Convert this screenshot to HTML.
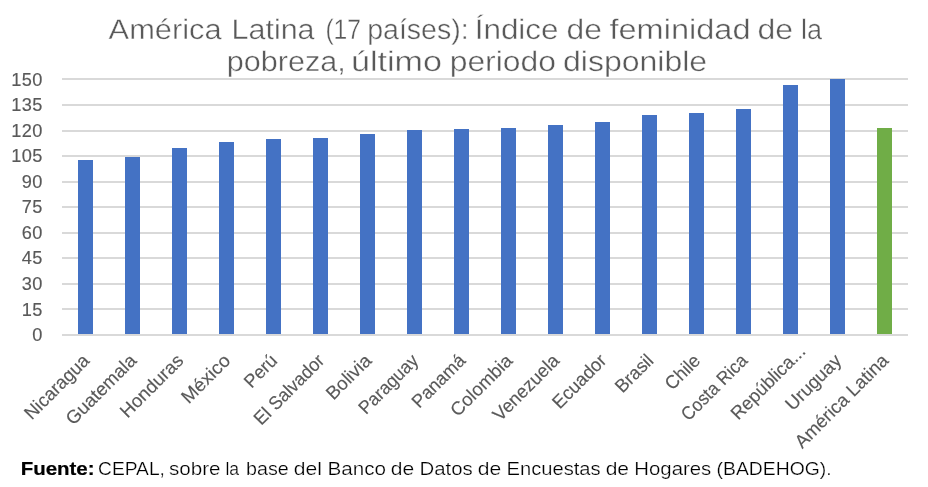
<!DOCTYPE html>
<html lang="es">
<head>
<meta charset="utf-8">
<title>América Latina (17 países): Índice de feminidad de la pobreza</title>
<style>
html,body{margin:0;padding:0;background:#fff;}
body{width:928px;height:487px;overflow:hidden;}
svg{display:block;}
.t{font-family:"Liberation Sans", sans-serif;font-size:28.3px;fill:#595959;text-rendering:geometricPrecision;stroke:#fff;stroke-width:0.39px;}
.a{font-family:"Liberation Sans", sans-serif;font-size:18.2px;fill:#595959;stroke:#595959;stroke-width:0.15px;}
.f{font-family:"Liberation Sans", sans-serif;font-size:17.7px;fill:#000;stroke:#fff;stroke-width:0.24px;}
.fb{font-weight:bold;stroke:#000;stroke-width:0.2px;}
</style>
</head>
<body>
<svg width="928" height="487" viewBox="0 0 928 487">
<rect x="0" y="0" width="928" height="487" fill="#ffffff"/>
<g fill="#d9d9d9" shape-rendering="crispEdges">
<rect x="62" y="78" width="846" height="2"/>
<rect x="62" y="104" width="846" height="2"/>
<rect x="62" y="130" width="846" height="2"/>
<rect x="62" y="155" width="846" height="2"/>
<rect x="62" y="181" width="846" height="2"/>
<rect x="62" y="206" width="846" height="2"/>
<rect x="62" y="232" width="846" height="2"/>
<rect x="62" y="257" width="846" height="2"/>
<rect x="62" y="283" width="846" height="2"/>
<rect x="62" y="308" width="846" height="2"/>
</g>
<g shape-rendering="crispEdges">
<rect x="78" y="160" width="15" height="175" fill="#4472c4"/>
<rect x="125" y="157" width="15" height="178" fill="#4472c4"/>
<rect x="172" y="148" width="15" height="187" fill="#4472c4"/>
<rect x="219" y="142" width="15" height="193" fill="#4472c4"/>
<rect x="266" y="139" width="15" height="196" fill="#4472c4"/>
<rect x="313" y="138" width="15" height="197" fill="#4472c4"/>
<rect x="360" y="134" width="15" height="201" fill="#4472c4"/>
<rect x="407" y="130" width="15" height="205" fill="#4472c4"/>
<rect x="454" y="129" width="15" height="206" fill="#4472c4"/>
<rect x="501" y="128" width="15" height="207" fill="#4472c4"/>
<rect x="548" y="125" width="15" height="210" fill="#4472c4"/>
<rect x="595" y="122" width="15" height="213" fill="#4472c4"/>
<rect x="642" y="115" width="15" height="220" fill="#4472c4"/>
<rect x="689" y="113" width="15" height="222" fill="#4472c4"/>
<rect x="736" y="109" width="15" height="226" fill="#4472c4"/>
<rect x="783" y="85" width="15" height="250" fill="#4472c4"/>
<rect x="830" y="79" width="15" height="256" fill="#4472c4"/>
<rect x="877" y="128" width="15" height="207" fill="#70ad47"/>
</g>
<rect x="62" y="334" width="846" height="2" fill="#d9d9d9" shape-rendering="crispEdges"/>
<g class="a" text-anchor="end" letter-spacing="0.4">
<text x="42.7" y="86.0">150</text>
<text x="42.7" y="111.0">135</text>
<text x="42.7" y="137.0">120</text>
<text x="42.7" y="162.0">105</text>
<text x="42.7" y="188.0">90</text>
<text x="42.7" y="213.0">75</text>
<text x="42.7" y="239.0">60</text>
<text x="42.7" y="264.0">45</text>
<text x="42.7" y="290.0">30</text>
<text x="42.7" y="315.6">15</text>
<text x="42.7" y="341.0">0</text>
</g>
<g class="a" text-anchor="end">
<text transform="translate(90.5 361.8) rotate(-45)" font-size="18.6" textLength="83.0" lengthAdjust="spacingAndGlyphs">Nicaragua</text>
<text transform="translate(137.5 361.8) rotate(-45)" font-size="18.6" textLength="90.9" lengthAdjust="spacingAndGlyphs">Guatemala</text>
<text transform="translate(184.5 361.8) rotate(-45)" font-size="18.6" textLength="80.5" lengthAdjust="spacingAndGlyphs">Honduras</text>
<text transform="translate(231.5 361.8) rotate(-45)" font-size="18.6" textLength="60.3" lengthAdjust="spacingAndGlyphs">México</text>
<text transform="translate(278.5 361.8) rotate(-45)" font-size="18.6" textLength="38.3" lengthAdjust="spacingAndGlyphs">Perú</text>
<text transform="translate(325.5 361.8) rotate(-45)" font-size="18.6" textLength="90.8" lengthAdjust="spacingAndGlyphs">El Salvador</text>
<text transform="translate(372.5 361.8) rotate(-45)" font-size="18.6" textLength="55.2" lengthAdjust="spacingAndGlyphs">Bolivia</text>
<text transform="translate(419.5 361.8) rotate(-45)" font-size="18.6" textLength="75.7" lengthAdjust="spacingAndGlyphs">Paraguay</text>
<text transform="translate(466.5 361.8) rotate(-45)" font-size="18.6" textLength="66.8" lengthAdjust="spacingAndGlyphs">Panamá</text>
<text transform="translate(513.5 361.8) rotate(-45)" font-size="18.6" textLength="78.9" lengthAdjust="spacingAndGlyphs">Colombia</text>
<text transform="translate(560.5 361.8) rotate(-45)" font-size="18.6" textLength="85.1" lengthAdjust="spacingAndGlyphs">Venezuela</text>
<text transform="translate(607.5 361.8) rotate(-45)" font-size="18.6" textLength="67.7" lengthAdjust="spacingAndGlyphs">Ecuador</text>
<text transform="translate(654.5 361.8) rotate(-45)" font-size="18.6" textLength="45.1" lengthAdjust="spacingAndGlyphs">Brasil</text>
<text transform="translate(701.5 361.8) rotate(-45)" font-size="18.6" textLength="41.3" lengthAdjust="spacingAndGlyphs">Chile</text>
<text transform="translate(748.5 361.8) rotate(-45)" font-size="18.6" textLength="84.8" lengthAdjust="spacingAndGlyphs">Costa Rica</text>
<text transform="translate(806.5 352.5) rotate(-45)" font-size="18.6" textLength="96.5" lengthAdjust="spacingAndGlyphs">República...</text>
<text transform="translate(842.5 361.8) rotate(-45)" font-size="18.6" textLength="70.2" lengthAdjust="spacingAndGlyphs">Uruguay</text>
<text transform="translate(889.5 361.8) rotate(-45)" font-size="18.6" textLength="123.5" lengthAdjust="spacingAndGlyphs">América Latina</text>
</g>
<g class="t">
<text x="108.60" y="38.8" textLength="113.00" lengthAdjust="spacingAndGlyphs">América</text>
<text x="231.53" y="38.8" textLength="83.07" lengthAdjust="spacingAndGlyphs">Latina</text>
<text x="325.38" y="38.8" textLength="35.71" lengthAdjust="spacingAndGlyphs">(17</text>
<text x="367.17" y="38.8" textLength="101.55" lengthAdjust="spacingAndGlyphs">países):</text>
<text x="474.66" y="38.8" textLength="83.90" lengthAdjust="spacingAndGlyphs">Índice</text>
<text x="566.50" y="38.8" textLength="35.37" lengthAdjust="spacingAndGlyphs">de</text>
<text x="609.49" y="38.8" textLength="141.04" lengthAdjust="spacingAndGlyphs">feminidad</text>
<text x="757.51" y="38.8" textLength="35.60" lengthAdjust="spacingAndGlyphs">de</text>
<text x="801.10" y="38.8" textLength="20.99" lengthAdjust="spacingAndGlyphs">la</text>
<text x="226.77" y="70.9" textLength="118.99" lengthAdjust="spacingAndGlyphs">pobreza,</text>
<text x="350.91" y="70.9" textLength="91.05" lengthAdjust="spacingAndGlyphs">último</text>
<text x="449.69" y="70.9" textLength="106.20" lengthAdjust="spacingAndGlyphs">periodo</text>
<text x="562.98" y="70.9" textLength="144.20" lengthAdjust="spacingAndGlyphs">disponible</text>
</g>
<g class="f">
<text x="20.69" y="475.2" textLength="73.89" lengthAdjust="spacingAndGlyphs" class="fb">Fuente:</text>
<text x="98.07" y="475.2" textLength="66.89" lengthAdjust="spacingAndGlyphs">CEPAL,</text>
<text x="168.98" y="475.2" textLength="51.55" lengthAdjust="spacingAndGlyphs">sobre</text>
<text x="225.39" y="475.2" textLength="13.70" lengthAdjust="spacingAndGlyphs">la</text>
<text x="246.09" y="475.2" textLength="42.70" lengthAdjust="spacingAndGlyphs">base</text>
<text x="293.83" y="475.2" textLength="28.14" lengthAdjust="spacingAndGlyphs">del</text>
<text x="327.43" y="475.2" textLength="58.51" lengthAdjust="spacingAndGlyphs">Banco</text>
<text x="390.78" y="475.2" textLength="23.44" lengthAdjust="spacingAndGlyphs">de</text>
<text x="419.57" y="475.2" textLength="53.21" lengthAdjust="spacingAndGlyphs">Datos</text>
<text x="477.70" y="475.2" textLength="23.47" lengthAdjust="spacingAndGlyphs">de</text>
<text x="506.56" y="475.2" textLength="94.11" lengthAdjust="spacingAndGlyphs">Encuestas</text>
<text x="605.69" y="475.2" textLength="23.39" lengthAdjust="spacingAndGlyphs">de</text>
<text x="634.35" y="475.2" textLength="76.92" lengthAdjust="spacingAndGlyphs">Hogares</text>
<text x="716.57" y="475.2" textLength="114.97" lengthAdjust="spacingAndGlyphs">(BADEHOG).</text>
</g>
</svg>
</body>
</html>
